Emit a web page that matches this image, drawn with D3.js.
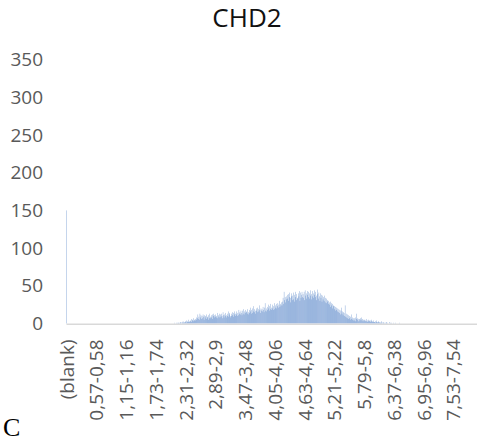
<!DOCTYPE html>
<html><head><meta charset="utf-8">
<script src="https://cdn.jsdelivr.net/npm/d3@7"></script>
<style>body{margin:0;background:#fff}svg{display:block}</style>
</head><body>
<script>
// ---- data ----
const title = "CHD2";
const blankCount = 150;              // "(blank)" category
const binStart = 2.10;               // first bin (2,10-2,11)
const binCount = 800;                // bins 0,00-0,01 ... 7,99-8,00
const counts = [
 1,0,0,1,0,1,0,1,1,0,
 1,2,1,0,2,1,3,1,2,1,
 2,3,1,4,2,3,2,5,3,2,
 4,3,6,2,5,4,3,7,4,5,
 6,4,8,5,7,12,6,9,5,13,
 8,11,6,10,7,12,9,5,11,8,
 10,6,12,8,9,5,11,7,13,9,
 7,11,8,12,6,10,13,8,11,9,
 12,8,10,14,7,11,9,13,8,12,
 9,13,10,7,15,11,8,12,10,14,
 11,8,13,10,16,9,12,14,10,8,
 13,10,15,11,9,14,12,16,10,13,
 12,16,10,14,11,18,13,15,12,17,
 14,11,17,13,19,12,16,14,18,15,
 16,13,19,15,12,18,14,21,16,13,
 18,14,20,16,23,15,19,17,13,20,
 17,21,15,19,16,24,18,14,20,17,
 19,16,22,18,15,21,27,17,20,16,
 22,18,25,20,17,23,19,26,21,18,
 20,25,18,23,27,19,24,21,26,20,
 23,27,21,25,30,22,26,24,28,24,
 29,34,26,42,31,35,28,36,32,38,
 33,39,30,41,35,28,34,40,36,31,
 37,32,41,29,38,35,42,31,39,34,
 33,40,36,43,30,41,34,38,42,35,
 39,34,42,31,44,37,40,33,43,38,
 35,42,33,40,37,44,32,39,43,36,
 40,34,38,44,35,42,31,37,45,39,
 33,41,36,30,40,34,38,29,37,32,
 35,30,37,28,34,27,33,29,31,26,
 30,25,28,22,29,24,27,20,26,23,
 24,19,23,17,22,18,21,16,20,15,
 19,14,18,12,17,21,13,16,11,15,
 14,10,24,9,13,8,12,7,11,6,
 10,7,9,5,12,6,8,5,7,4,
 7,4,8,3,6,13,5,7,3,6,
 6,4,7,5,8,4,6,3,5,4,
 5,3,4,6,3,4,2,5,3,4,
 3,4,2,3,5,2,3,2,4,2,
 2,3,1,2,4,2,1,3,2,1,
 2,1,1,3,1,0,2,1,1,0,
 1,0,2,1,0,1,0,0,2,0,
 1,0,0,1,0,0,0,1,0,0,
 0,1,0,0,0,0,0,0,1,0
];
const xTickLabels = ["(blank)","0,57-0,58","1,15-1,16","1,73-1,74","2,31-2,32","2,89-2,9","3,47-3,48","4,05-4,06","4,63-4,64","5,21-5,22","5,79-5,8","6,37-6,38","6,95-6,96","7,53-7,54"];
const yTicks = [0,50,100,150,200,250,300,350];

// ---- categories ----
function fmt(v){ return (Math.round(v*100)/100).toString().replace(".", ","); }
const categories = ["(blank)"];
for (let k = 0; k < binCount; k++) categories.push(fmt(k/100) + "-" + fmt((k+1)/100));
const startIdx = Math.round(binStart*100);
const rows = categories.map((c, i) => {
  let v = 0;
  if (i === 0) v = blankCount;
  else { const j = i - 1 - startIdx; if (j >= 0 && j < counts.length) v = counts[j]; }
  return {cat: c, value: v};
});

// ---- chart ----
const W = 477, H = 441;
const svg = d3.select("body").append("svg").attr("width", W).attr("height", H);
const x = d3.scaleBand().domain(categories).range([66.5, 477]).paddingInner(0.5).paddingOuter(0);
const y = d3.scaleLinear().domain([0, 350]).range([323.5, 59.6]);

svg.append("text").attr("x", 247).attr("y", 27).attr("text-anchor", "middle")
  .attr("font-family", "Open Sans").attr("font-size", 26).attr("fill", "#111").text(title);

svg.append("g").selectAll("rect").data(rows).join("rect")
  .attr("x", d => x(d.cat)).attr("width", x.bandwidth())
  .attr("y", d => y(d.value)).attr("height", d => y(0) - y(d.value))
  .attr("fill", "#1f5bb5");

// x axis line
svg.append("line").attr("x1", 66.5).attr("x2", 477).attr("y1", y(0)+0.8).attr("y2", y(0)+0.8)
  .attr("stroke", "#d9d9d9").attr("stroke-width", 1.6);

const yAxis = svg.append("g").attr("transform", "translate(67,0)")
  .call(d3.axisLeft(y).tickValues(yTicks).tickSize(0).tickPadding(24));
yAxis.select(".domain").remove();
yAxis.selectAll("text").attr("font-family", "Open Sans").attr("font-size", 19).attr("fill", "#595959");

const xAxis = svg.append("g").attr("transform", `translate(0,${y(0)})`)
  .call(d3.axisBottom(x).tickValues(xTickLabels).tickSize(0));
xAxis.select(".domain").remove();
xAxis.selectAll("text")
  .attr("font-family", "Open Sans").attr("font-size", 19).attr("fill", "#595959")
  .attr("transform", "rotate(-90)").attr("text-anchor", "end")
  .attr("x", -16).attr("y", 0).attr("dy", "0.35em");

svg.append("text").attr("x", 3).attr("y", 436)
  .attr("font-family", "Liberation Serif").attr("font-size", 26).attr("fill", "#000").text("C");
</script>
</body></html>
